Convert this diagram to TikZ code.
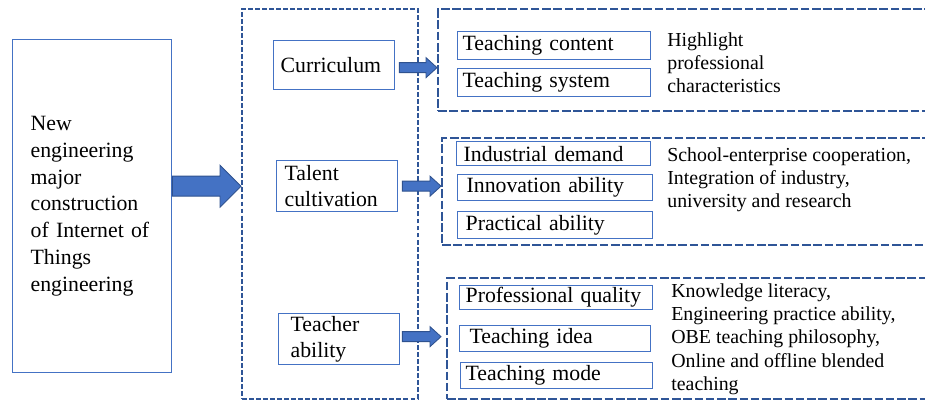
\documentclass[tikz,border=0pt]{standalone}
\usepackage{fontspec}
\setmainfont{Liberation Serif}
\usetikzlibrary{calc}

\definecolor{boxblue}{RGB}{68,114,196}
\definecolor{dashblue}{RGB}{47,85,151}
\definecolor{arrowline}{RGB}{47,82,143}
\newlength{\px}\setlength{\px}{0.02cm}

% fat block arrow: from, to, half shaft, half head, head length
\newcommand{\fatarrow}[5]{%
  \filldraw[fill=boxblue, draw=arrowline, line width=0.5pt, line join=miter]
    ($(#1)+(0,-#3)$) -- ($(#2)+(-#5,-#3)$) -- ($(#2)+(-#5,-#4)$) -- (#2)
    -- ($(#2)+(-#5,#4)$) -- ($(#2)+(-#5,#3)$) -- ($(#1)+(0,#3)$) -- cycle;}

\tikzset{
  box/.style={draw=boxblue, line width=0.75pt, anchor=north west, align=left,
    inner xsep=#1\px, inner ysep=0pt},
  box/.default=5,
  frame/.style={draw=dashblue, line width=0.95pt,
    dash pattern=on 2.8pt off 1.2pt, anchor=north west, inner sep=0pt},
  group/.style={draw=dashblue, line width=1.4pt,
    dash pattern=on 4.9pt off 1.5pt, anchor=north west, inner sep=0pt},
  note/.style={anchor=west, align=left, inner sep=0pt,
    font=\fontsize{11.3}{13}\selectfont}
}

\begin{document}
\begin{tikzpicture}[x=0.02cm, y=-0.02cm, font=\fontsize{12.4}{14}\selectfont]
  \useasboundingbox (0,0) rectangle (925,401);

  % left block
  \node[box=18, text width=123\px, minimum height=333\px,
    font=\fontsize{12.4}{15.3}\selectfont] (lbox) at (12,39)
    {New\\engineering\\major\\construction\\of Internet of\\Things\\engineering\\[1.2ex]};

  % middle column
  \node[frame, minimum width=176\px, minimum height=390\px] (frame) at (241,8) {};
  \node[box=7, text width=107\px, minimum height=49\px] (curr) at (273,40) {Curriculum};
  \node[box=8, text width=105\px, minimum height=51\px,
    font=\fontsize{12.4}{14.7}\selectfont] (talent) at (276,160) {Talent\\cultivation};
  \node[box=12, text width=97\px, minimum height=51\px,
    font=\fontsize{12.4}{14.7}\selectfont] (teacher) at (278,313) {Teacher\\ability};

  % right groups
  \node[group, minimum width=500\px, minimum height=102\px] (grp1) at (437,8) {};
  \node[group, minimum width=500\px, minimum height=107\px] (grp2) at (441,137) {};
  \node[group, minimum width=500\px, minimum height=121\px] (grp3) at (446,277) {};

  \node[box, text width=183\px, minimum height=28\px] (c1) at (457,31) {Teaching content};
  \node[box, text width=183\px, minimum height=28\px] (c2) at (457,68) {Teaching system};
  \node[note] (n1) at (667,63) {Highlight\\professional\\characteristics};

  \node[box=7, text width=180\px, minimum height=24\px] (t1) at (456,141) {Industrial demand};
  \node[box=9, text width=177\px, minimum height=26\px] (t2) at (457,174) {Innovation ability};
  \node[box=8, text width=179\px, minimum height=27\px] (t3) at (457,211) {Practical ability};
  \node[note] (n2) at (667,180)
    {School-enterprise cooperation,\\Integration of industry,\\university and research};

  \node[box=6, text width=181\px, minimum height=24\px] (a1) at (459,285) {Professional quality};
  \node[box=10, text width=171\px, minimum height=26\px] (a2) at (459,325) {Teaching idea};
  \node[box, text width=182\px, minimum height=26\px] (a3) at (460,362) {Teaching mode};
  \node[note, font=\fontsize{11.3}{13.3}\selectfont] (n3) at (671,339)
    {Knowledge literacy,\\Engineering practice ability,\\OBE teaching philosophy,\\Online and offline blended\\teaching};

  % arrows
  \coordinate (s0) at (lbox.east |- talent);
  \coordinate (e0) at (frame.west |- talent);
  \fatarrow{s0}{e0}{10}{21}{21}
  \coordinate (s1) at ([xshift=4\px, yshift=-2.5\px]curr.east);
  \coordinate (e1) at (grp1.west |- s1);
  \fatarrow{s1}{e1}{5}{10}{11}
  \coordinate (s2) at ([xshift=4\px]talent.east);
  \coordinate (e2) at (grp2.west |- s2);
  \fatarrow{s2}{e2}{5}{10}{11}
  \coordinate (s3) at ([xshift=2\px, yshift=2.5\px]teacher.east);
  \coordinate (e3) at ([xshift=-5\px]grp3.west |- s3);
  \fatarrow{s3}{e3}{5}{10}{11}
\end{tikzpicture}
\end{document}
